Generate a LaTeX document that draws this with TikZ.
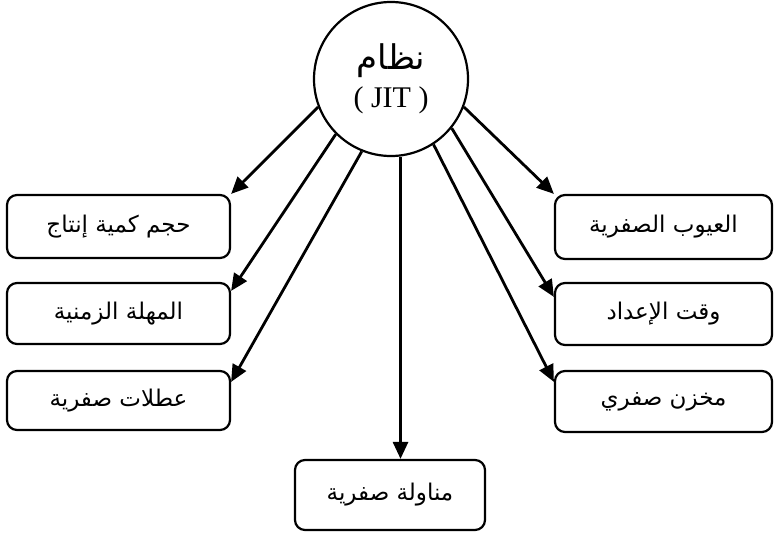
\documentclass[tikz,border=0pt]{standalone}
\usepackage{fontspec}
\setmainfont{Liberation Serif}
\newfontfamily\arabicfont[Script=Arabic]{DejaVu Sans}
\TeXXeTstate=1
\newcommand\artxt[1]{{\arabicfont\fontsize{23}{28}\selectfont\beginR #1\endR}}
\usetikzlibrary{arrows.meta}
\begin{document}
\begin{tikzpicture}[x=1pt,y=-1pt,
  box/.style={draw,line width=2.2pt,rounded corners=10pt,inner sep=0pt},
  conn/.style={line width=2.8pt,-{Triangle[length=17pt,width=15pt]}}]
\useasboundingbox (0,0) rectangle (775,533);
\node[draw,circle,line width=2.2pt,minimum size=154pt,inner sep=0pt,align=center] (c) at (391,79)
  {{\arabicfont\fontsize{34}{40}\selectfont\beginR نظام\endR}\\[8pt]{\fontsize{30}{36}\selectfont( JIT )}};
\node[box,minimum width=223pt,minimum height=63pt] (l1) at (118.5,226.5) {\artxt{حجم كمية إنتاج}};
\node[box,minimum width=223pt,minimum height=61pt] (l2) at (118.5,313.5) {\artxt{المهلة الزمنية}};
\node[box,minimum width=223pt,minimum height=59pt] (l3) at (118.5,400.5) {\artxt{عطلات صفرية}};
\node[box,minimum width=217pt,minimum height=64pt] (r1) at (663.5,227) {\artxt{العيوب الصفرية}};
\node[box,minimum width=217pt,minimum height=62pt] (r2) at (663.5,314) {\artxt{وقت الإعداد}};
\node[box,minimum width=217pt,minimum height=61pt] (r3) at (663.5,401.5) {\artxt{مخزن صفري}};
\node[box,minimum width=190pt,minimum height=70pt] (b) at (390,495) {\artxt{مناولة صفرية}};
\draw[conn] (c.201.5) -- (l1.north east);
\draw[conn] (c.225) -- ([yshift=-9pt]l2.north east);
\draw[conn] (c.248.7) -- ([yshift=-12pt]l3.north east);
\draw[conn] (c.339.4) -- (r1.north west);
\draw[conn] (c.321) -- ([yshift=-15pt]r2.north west);
\draw[conn] (c.303.7) -- ([yshift=-12pt]r3.north west);
\draw[conn] (c.277) -- (c.277 |- b.north);
\end{tikzpicture}
\end{document}
